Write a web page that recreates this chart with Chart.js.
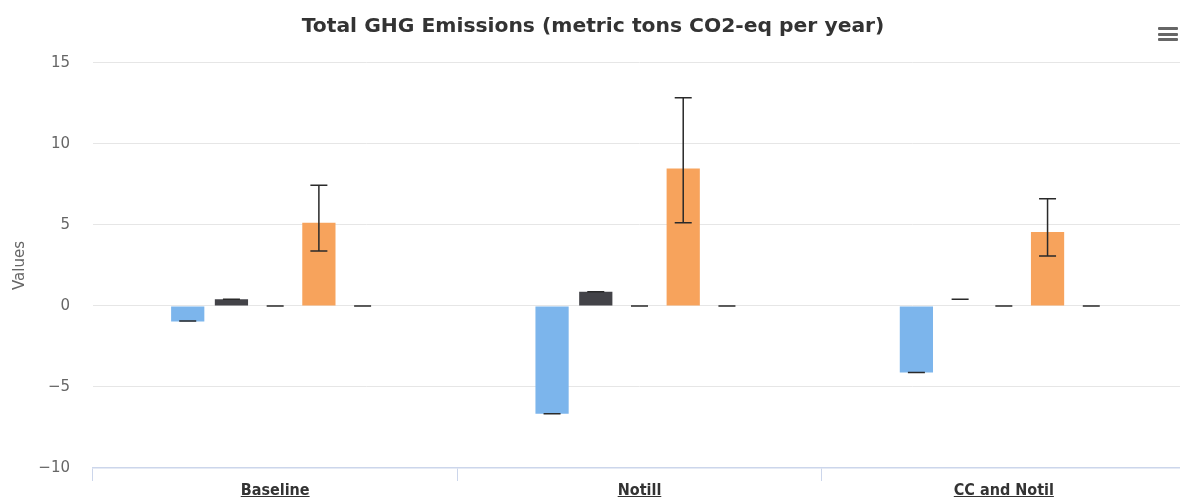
<!DOCTYPE html>
<html>
<head>
<meta charset="utf-8">
<script src="https://cdn.jsdelivr.net/npm/chart.js@4.4.1/dist/chart.umd.min.js"></script>
<style>
  html, body { margin: 0; padding: 0; background: #fff; overflow: hidden; width: 1180px; height: 497px; }
  #wrap { position: relative; width: 1192px; height: 500px; }
  #menu { position: absolute; left: 1158px; top: 27px; width: 20px; }
  #menu div { height: 3px; background: #666; margin-bottom: 2.5px; border-radius: 1px; }
</style>
</head>
<body>
<div id="wrap">
  <canvas id="c" width="1192" height="500"></canvas>
  <div id="menu"><div></div><div></div><div></div></div>
</div>
<script>
// ---- data ----
const categories = ['Baseline', 'Notill', 'CC and Notil'];
const seriesNames = ['Series 1', 'Series 2', 'Series 3', 'Series 4', 'Series 5'];
const series1 = [-0.95, -6.65, -4.1];
const series1ErrLow = [-0.93, -6.65, -4.1];
const series1ErrHigh = [-0.93, -6.65, -4.1];
const series2 = [0.42, 0.88, 0];
const series2ErrLow = [0.42, 0.88, 0.41];
const series2ErrHigh = [0.42, 0.88, 0.41];
const series3 = [0, 0, 0];
const series3ErrLow = [0, 0, 0];
const series3ErrHigh = [0, 0, 0];
const series4 = [5.14, 8.48, 4.57];
const series4ErrLow = [3.4, 5.14, 3.09];
const series4ErrHigh = [7.45, 12.86, 6.62];
const series5 = [0, 0, 0];
const series5ErrLow = [0, 0, 0];
const series5ErrHigh = [0, 0, 0];
const yTicks = [-10, -5, 0, 5, 10, 15];

const colors = ['#7cb5ec', '#434348', '#90ed7d', '#f7a35c', '#8085e9'];
const values = [series1, series2, series3, series4, series5];
const lows = [series1ErrLow, series2ErrLow, series3ErrLow, series4ErrLow, series5ErrLow];
const highs = [series1ErrHigh, series2ErrHigh, series3ErrHigh, series4ErrHigh, series5ErrHigh];

const datasets = values.map((v, i) => ({
  label: seriesNames[i],
  data: v,
  backgroundColor: colors[i],
  borderWidth: 0,
  errLow: lows[i],
  errHigh: highs[i],
  barPercentage: 0.76,
  categoryPercentage: 0.6
}));

const xFont = { family: '"DejaVu Sans Condensed", "Liberation Sans Narrow", "DejaVu Sans"', size: 16, weight: 'bold', lineHeight: 0.9 };

const errorBars = {
  id: 'errorBars',
  afterDatasetsDraw(chart) {
    const ctx = chart.ctx;
    const ys = chart.scales.y;
    ctx.save();
    ctx.strokeStyle = '#2a2a2a';
    ctx.lineWidth = 1.5;
    chart.data.datasets.forEach((ds, i) => {
      const meta = chart.getDatasetMeta(i);
      meta.data.forEach((bar, j) => {
        const lo = ds.errLow[j], hi = ds.errHigh[j];
        if (lo == null || hi == null) return;
        const x = bar.x;
        const yl = ys.getPixelForValue(lo), yh = ys.getPixelForValue(hi);
        const hw = 8.5;
        ctx.beginPath();
        ctx.moveTo(x, yl); ctx.lineTo(x, yh);
        ctx.moveTo(x - hw, yl); ctx.lineTo(x + hw, yl);
        ctx.moveTo(x - hw, yh); ctx.lineTo(x + hw, yh);
        ctx.stroke();
      });
    });
    ctx.restore();
  }
};

const underline = {
  id: 'underline',
  afterDraw(chart) {
    const ctx = chart.ctx;
    const xs = chart.scales.x;
    ctx.save();
    ctx.font = `bold ${xFont.size}px ${xFont.family}`;
    ctx.strokeStyle = '#333';
    ctx.lineWidth = 1;
    const yLine = xs.top + 28.5;
    categories.forEach((lab, i) => {
      const x = xs.getPixelForTick(i);
      const w = ctx.measureText(lab).width;
      ctx.beginPath();
      ctx.moveTo(x - w / 2, yLine);
      ctx.lineTo(x + w / 2, yLine);
      ctx.stroke();
    });
    ctx.restore();
  }
};

new Chart(document.getElementById('c'), {
  type: 'bar',
  data: { labels: categories, datasets },
  plugins: [errorBars, underline],
  options: {
    responsive: false,
    animation: false,
    layout: { padding: { left: 0, right: 6, top: 0, bottom: 0 } },
    plugins: {
      legend: { display: false },
      tooltip: { enabled: false },
      title: {
        display: true,
        text: 'Total GHG Emissions (metric tons CO2-eq per year)',
        color: '#333',
        font: { family: '"DejaVu Sans"', size: 20.3, weight: 'bold', lineHeight: 1.2 },
        padding: { top: 15, bottom: 23.6 }
      }
    },
    scales: {
      x: {
        afterFit(axis) { axis.height = 30; },
        grid: { display: true, drawOnChartArea: false, drawTicks: true, tickLength: 13, color: '#ccd6eb', offset: true },
        border: { display: true, color: '#ccd6eb', width: 1.5 },
        ticks: { color: '#333', font: xFont, padding: 3, maxRotation: 0 }
      },
      y: {
        min: -10, max: 15,
        afterBuildTicks(axis) { axis.ticks = yTicks.map(v => ({ value: v })); },
        afterFit(axis) { axis.width = 93; },
        grid: { color: '#e6e6e6', drawTicks: false, lineWidth: 1 },
        border: { display: false },
        ticks: {
          color: '#666',
          font: { family: '"DejaVu Sans"', size: 15 },
          padding: 23,
          callback: v => (v < 0 ? '\u2212' + Math.abs(v) : String(v))
        },
        title: {
          display: true, text: 'Values', color: '#666',
          font: { family: '"DejaVu Sans"', size: 15 },
          padding: { top: 11, bottom: 0 }
        }
      }
    }
  }
});
</script>
</body>
</html>
